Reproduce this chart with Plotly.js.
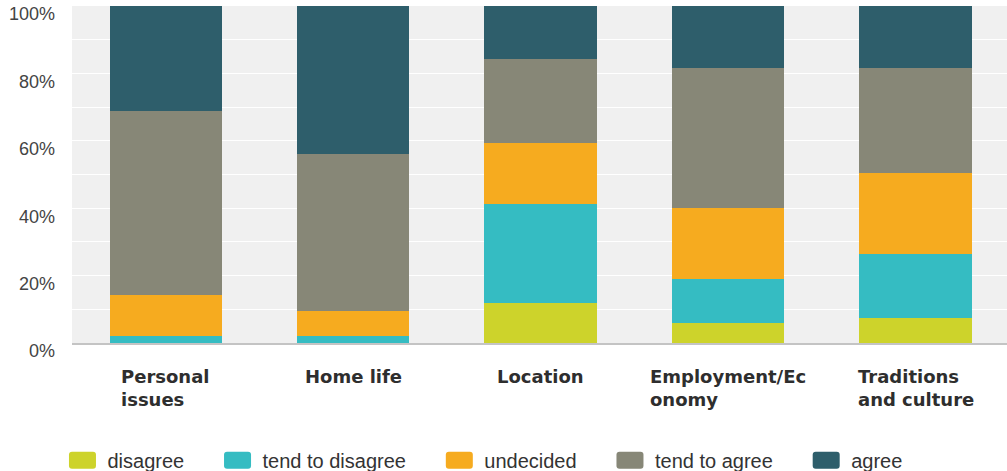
<!DOCTYPE html>
<html>
<head>
<meta charset="utf-8">
<script src="https://cdn.plot.ly/plotly-3.0.1.min.js"></script>
<style>
html, body { margin: 0; padding: 0; background: #ffffff; }
#chart { width: 1007px; height: 471px; }
</style>
</head>
<body>
<div id="chart"></div>
<script>
// ---- data (percent of respondents) ----
var categories = ["Personal issues", "Home life", "Location", "Employment/Economy", "Traditions and culture"];
var xLabels = ["Personal<br>issues", "Home life", "Location", "Employment/Ec<br>onomy", "Traditions<br>and culture"];
var seriesNames = ["disagree", "tend to disagree", "undecided", "tend to agree", "agree"];
var disagree        = [0,    0,    12,   6,    7.5];
var tendToDisagree  = [2,    2,    29.1, 12.9, 18.8];
var undecided       = [12.2, 7.5,  18.2, 21.2, 24.1];
var tendToAgree     = [54.6, 46.7, 24.9, 41.6, 31.3];
var agree           = [31.2, 43.8, 15.8, 18.3, 18.3];
var yTickVals = [0, 20, 40, 60, 80, 100];
var yTickText = ["0%", "20%", "40%", "60%", "80%", "100%"];

var colors = ["#cdd32b", "#35bcc2", "#f6ab1f", "#878777", "#2e5e6b"];
var seriesValues = [disagree, tendToDisagree, undecided, tendToAgree, agree];
var PAD = "\u00a0\u00a0\u00a0\u00a0\u00a0\u00a0";

var traces = seriesValues.map(function (vals, i) {
  return {
    type: "bar",
    name: seriesNames[i] + (i < seriesNames.length - 1 ? PAD : ""),
    x: categories,
    y: vals,
    marker: { color: colors[i], line: { width: 0 } },
    hoverinfo: "name+y"
  };
});

var annotations = categories.map(function (c, i) {
  return {
    x: c, xref: "x",
    y: 0, yref: "paper",
    yanchor: "top", xanchor: "center",
    yshift: -21,
    align: "left",
    showarrow: false,
    text: xLabels[i],
    font: { family: "'DejaVu Sans', sans-serif", size: 18, color: "#2e2e2e", weight: "bold" }
  };
});

var layout = {
  width: 1007, height: 471,
  margin: { l: 72, r: 0, t: 6, b: 128, pad: 0 },
  paper_bgcolor: "#ffffff",
  plot_bgcolor: "#f0f0f0",
  barmode: "stack",
  bargap: 0.4,
  showlegend: true,
  legend: {
    orientation: "h",
    xref: "container", yref: "container",
    x: 0.067, y: 0.023,
    xanchor: "left", yanchor: "middle",
    font: { family: "'Liberation Sans', Arial, sans-serif", size: 20, color: "#333333" },
    traceorder: "normal",
    bgcolor: "rgba(0,0,0,0)"
  },
  xaxis: {
    type: "category",
    range: [-0.5, 4.487],
    showticklabels: false,
    showgrid: false,
    zeroline: false,
    showline: true,
    linecolor: "#c4c4c4",
    linewidth: 1.5,
    ticks: "",
    fixedrange: true
  },
  yaxis: {
    range: [0, 100],
    tickmode: "array",
    tickvals: yTickVals,
    ticktext: yTickText,
    showgrid: true,
    gridcolor: "#ffffff",
    gridwidth: 1,
    minor: { dtick: 10, showgrid: true, gridcolor: "#ffffff", gridwidth: 1 },
    zeroline: false,
    showline: false,
    ticks: "",
    ticklabelstandoff: 16,
    ticklabelshift: 8,
    tickfont: { family: "'Liberation Sans', Arial, sans-serif", size: 18, color: "#444444" },
    fixedrange: true
  },
  annotations: annotations
};

Plotly.newPlot("chart", traces, layout, { displayModeBar: false, staticPlot: true }).then(function (gd) {
  // enlarge legend swatches to rounded rectangles like the reference
  var paths = gd.querySelectorAll("path.legendbar, .legendpoints path");
  paths.forEach(function (p) {
    var w = 13.5, h = 8.5, r = 3, cx = -5;
    var d = "M" + (cx - w + r) + "," + (-h) +
            "H" + (cx + w - r) + "Q" + (cx + w) + "," + (-h) + " " + (cx + w) + "," + (-h + r) +
            "V" + (h - r) + "Q" + (cx + w) + "," + h + " " + (cx + w - r) + "," + h +
            "H" + (cx - w + r) + "Q" + (cx - w) + "," + h + " " + (cx - w) + "," + (h - r) +
            "V" + (-h + r) + "Q" + (cx - w) + "," + (-h) + " " + (cx - w + r) + "," + (-h) + "Z";
    p.setAttribute("d", d);
  });
});
</script>
</body>
</html>
